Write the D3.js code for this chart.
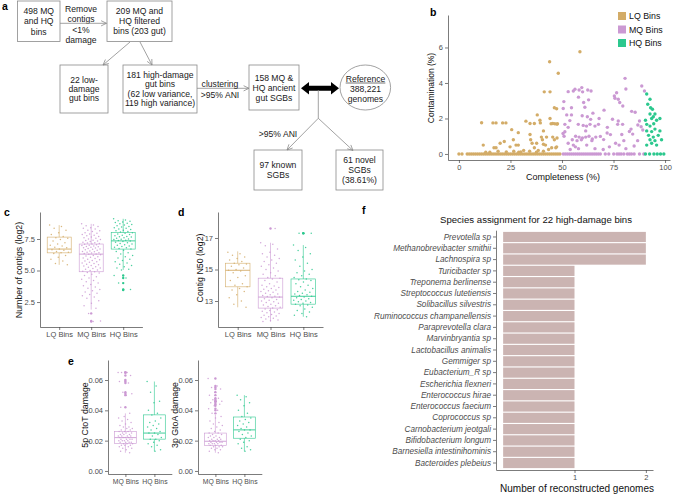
<!DOCTYPE html>
<html><head><meta charset="utf-8">
<script src="https://cdn.jsdelivr.net/npm/d3@7"></script>
<style>body{margin:0;background:#fff} svg{display:block}</style>
</head><body>
<script>
// ---------------- DATA ----------------
const binClasses = ["LQ Bins","MQ Bins","HQ Bins"];
const damageClasses = ["MQ Bins","HQ Bins"];

// panel a texts
const flowTexts = {
  start: ["498 MQ","and HQ","bins"],
  filterStep: ["Remove","contigs","<1%","damage"],
  filtered: ["209 MQ and","HQ filtered","bins (203 gut)"],
  lowDamage: ["22 low-","damage","gut bins"],
  highDamage: ["181 high-damage","gut bins","(62 low variance,","119 high variance)"],
  clusterStep: ["clustering",">95% ANI"],
  sgbs: ["158 MQ &","HQ ancient","gut SGBs"],
  reference: ["Reference","388,221","genomes"],
  aniStep: [">95% ANI"],
  known: ["97 known","SGBs"],
  novel: ["61 novel","SGBs","(38.61%)"]
};

// panel b: [completeness %, contamination %]
const lqPoints = [[0,0],[1.5,0],[4,0],[5,0],[6,0],[7,0],[8,0],[9,0],[10,0],[11,0],[12,0],[13,0],[14,0],[15,0],[16,0],[17,0],[18,0],[19,0],[20,0],[21,0],[22,0],[23,0],[24,0],[25,0],[26,0],[27,0],[28,0],[29,0],[30,0],[31,0],[32,0],[33,0],[34,0],[35,0],[36,0],[37,0],[38,0],[39,0],[40,0],[41,0],[42,0],[43,0],[44,0],[45,0],[46,0],[47,0],[48,0],[49,0],
 [11,1.76],[11.8,0.5],[16.5,1.75],[18,1.75],[21.2,1.75],[22.8,1.75],[17,0.35],[18,0.35],[20,0.6],[22,0.7],[25.6,1.37],[26.4,0.8],[24.8,0.4],[27.7,0.5],[28.8,0.5],[28.8,1.2],[31.4,0.2],[32.5,1.85],[34.5,1.72],[36.6,1.72],[34.5,1.1],[34.8,0.8],[35.5,0.6],[36.6,0.35],[37.7,0.6],[38,2.2],[39.3,1.9],[39.5,1.75],[40,0.95],[40.5,0.8],[41,1.3],[41.4,3.5],[44.2,3.5],[44,5.2],[48.2,4.55],[46.3,2.6],[44.2,2.0],[44.7,1.7],[45.5,1.72],[46.5,1.7],[47.5,1.68],[41,0.55],[42,0.5],[42.5,0.95],[45.5,0.95],[46.3,0.8],[45,0.35],[47,0.35],[38.5,0.2],[41,0.15],[43.5,0.25],[30,0.12],[26.6,0.15],[29,0.1],[34.3,0.15],[37.6,0.1],[58.7,5.76],[47.4,2.55],[47.8,1.7],[47.6,0.9],[47.4,0.4],[13,0.1],[15,0.1],[19,0.15],[23,0.12]];
const mqPoints = [[50.6,0],[51.6,0],[52.6,0],[53.6,0],[54.6,0],[55.6,0],[56.6,0],[57.6,0],[58.6,0],[59.6,0],[60.6,0],[61.6,0],[62.6,0],[63.6,0],[64.6,0],[65.6,0],[66.6,0],[67.6,0],[68.6,0],[71,0],[72.7,0],[75.1,0],[76.7,0],[77.7,0],[78.7,0],[80,0],[81.7,0],[82.7,0],[83.7,0],[85,0],[87.6,0],[89.7,0],
 [80.6,4.26],[88.7,3.83],[90,3.55],[81,3.66],[76.5,3.45],[75.4,3.27],[75.7,3.14],[77.3,3.08],[53,3.51],[55.5,3.55],[56.3,3.65],[58.3,3.6],[59.6,3.74],[60,3.5],[62.5,3.6],[64.1,3.55],[62.9,3.05],[58,3.2],[50.9,2.95],[50.6,2.56],[54.6,2.6],[61.1,2.63],[54.6,2.2],[53.8,1.88],[59.8,2.15],[62.3,2.1],[63.9,1.95],[70.4,2.47],[74.5,1.96],[77.3,1.86],[77,1.67],[79.4,1.67],[87.6,1.86],[86.8,1.63],[88.4,1.53],[89.2,1.35],[83.5,1.4],[82.7,1.27],[84.3,1.12],[71.9,1.18],[73.5,1.09],[70.2,0.81],[68.6,0.99],[63.6,1.67],[66,1.57],[67.7,1.67],[57.9,1.67],[60.3,1.61],[61.9,1.57],[51.4,1.67],[53,1.5],[51.4,1.25],[50.5,1.15],[51,1.0],[56.6,1.0],[58.3,0.95],[59.9,0.9],[61.5,0.95],[63.1,1.0],[64.7,0.85],[66.4,0.95],[55,0.8],[57.3,0.75],[59.4,0.8],[53,0.6],[55.5,0.5],[62,0.5],[64.5,0.75],[76,0.6],[77.7,0.5],[80,0.75],[86.7,0.75],[68,2.0],[72,1.5],[66,0.3],[70,0.25],[73,0.4],[79,1.1],[81,0.3],[85,0.45],[58,0.3],[54,0.25],[60.5,2.9],[61.5,1.3],[65,2.3],[52.3,2.2],[56.5,0.4],[79.5,2.7],[78,2.9],[83.8,2.4],[85.5,2.35]];
const hqPoints = [[90.5,0],[92.5,0],[94.6,0],[96.2,0],[97.8,0],[99.4,0],
 [91.1,3.38],[92.7,3.08],[91.6,2.8],[93.9,2.52],[92.7,2.25],[94.3,2.1],[95.1,2.25],[93.5,2.0],[95.9,1.9],[97.5,2.0],[91.1,1.67],[92.7,1.57],[91.1,1.3],[93.5,1.26],[95.1,1.4],[92,1.05],[94.3,0.95],[96.7,1.05],[92.7,0.8],[95.1,0.75],[98.3,0.8],[93.5,0.6],[95.9,0.5],[91.1,0.5],[97.5,1.3],[90.5,1.9],[94.5,1.7],[93,2.6]];
const bXTicks = [0,25,50,75,100];
const bYTicks = [0,2,4,6];

// panel c: number of contigs (log2)
const contigsLQ = [8.6,8.5,8.35,8.2,8.0,7.85,7.7,7.6,7.55,7.45,7.35,7.2,7.1,7.0,6.95,6.85,6.8,6.7,6.65,6.6,6.5,6.45,6.4,6.35,6.2,6.05,5.9,5.75,5.55,5.45];
const contigsMQ = [8.7,8.6,8.55,8.5,8.4,8.35,8.3,8.2,8.15,8.1,8.0,7.95,7.9,7.85,7.8,7.75,7.7,7.65,7.6,7.55,7.5,7.45,7.4,7.38,7.35,7.3,7.25,7.2,7.18,7.15,7.1,7.08,7.05,7.0,6.98,6.95,6.9,6.88,6.85,6.8,6.78,6.75,6.7,6.68,6.65,6.6,6.55,6.5,6.48,6.45,6.4,6.38,6.35,6.3,6.28,6.25,6.2,6.15,6.1,6.05,6.0,5.95,5.9,5.85,5.8,5.75,5.7,5.65,5.6,5.55,5.5,5.45,5.4,5.35,5.3,5.25,5.2,5.15,5.1,5.05,5.0,4.95,4.9,4.85,4.8,4.7,4.6,4.5,4.4,4.3,4.2,4.1,4.0,3.9,3.8,3.7,3.6,3.5,3.4,3.3,3.2,3.1,3.0,2.9,2.8,2.6,2.4,2.2,2.0,1.6,1.0,0.95];
const contigsHQ = [9.1,9.0,8.95,8.9,8.85,8.8,8.75,8.7,8.65,8.6,8.55,8.5,8.45,8.4,8.35,8.3,8.25,8.2,8.15,8.1,8.05,8.0,7.95,7.9,7.85,7.8,7.75,7.7,7.68,7.65,7.6,7.55,7.5,7.48,7.45,7.4,7.38,7.35,7.3,7.25,7.2,7.15,7.1,7.05,7.0,6.95,6.9,6.85,6.8,6.75,6.7,6.6,6.5,6.4,6.3,6.2,6.1,6.0,5.9,5.8,5.7,5.6,5.5,5.4,5.3,5.2,5.1,5.05,4.6,4.4,4.0,3.5,3.45];
// [lower whisker, q1, median, q3, upper whisker]
const contigsStats = [[5.45,6.4,6.7,7.65,8.6],[1.9,4.9,6.3,7.1,8.7],[5.05,6.7,7.35,8.0,9.1]];
const contigsTicks = [2.5,5.0,7.5];

// panel d: contig N50 (log2)
const n50LQ = [16.1,16.0,15.9,15.8,15.7,15.6,15.5,15.4,15.35,15.3,15.2,15.1,15.0,14.95,14.9,14.8,14.6,14.5,14.3,14.1,14.0,13.9,13.8,13.7,13.6,13.4,13.2,13.0,12.8,12.6];
const n50MQ = [16.7,16.6,16.5,16.3,16.1,16.0,15.9,15.8,15.7,15.6,15.5,15.4,15.3,15.2,15.1,15.0,14.9,14.8,14.7,14.6,14.5,14.45,14.4,14.3,14.2,14.1,14.0,13.95,13.9,13.85,13.8,13.75,13.7,13.65,13.6,13.55,13.5,13.45,13.4,13.35,13.3,13.28,13.25,13.2,13.15,13.1,13.05,13.0,12.95,12.9,12.85,12.8,12.75,12.7,12.65,12.6,12.55,12.5,12.45,12.4,12.35,12.3,12.25,12.2,12.15,12.1,12.05,12.0,11.95,11.9,11.85,11.8,11.75,11.7,17.6];
const n50HQ = [16.55,16.4,16.2,16.0,15.8,15.6,15.4,15.2,15.0,14.9,14.8,14.7,14.6,14.5,14.4,14.35,14.3,14.2,14.1,14.0,13.9,13.8,13.7,13.6,13.55,13.5,13.45,13.4,13.35,13.3,13.25,13.2,13.15,13.1,13.05,13.0,12.95,12.9,12.85,12.8,12.75,12.7,12.6,12.5,12.4,12.3,12.2,12.1,12.0,17.3,17.3];
const n50Stats = [[12.6,13.9,14.95,15.4,16.15],[11.7,12.55,13.25,14.45,16.7],[12.0,12.8,13.3,14.4,16.55]];
const n50Ticks = [13,15,17];

// panel e: damage
const ctoTMQ = [0.065,0.065,0.065,0.063,0.06,0.059,0.058,0.052,0.051,0.05,0.042,0.038,0.036,0.035,0.034,0.033,0.032,0.031,0.030,0.029,0.029,0.028,0.028,0.027,0.027,0.026,0.026,0.026,0.025,0.025,0.025,0.024,0.024,0.024,0.023,0.023,0.023,0.023,0.022,0.022,0.022,0.022,0.021,0.021,0.021,0.021,0.020,0.020,0.020,0.020,0.019,0.019,0.019,0.019,0.018,0.018,0.018,0.017,0.017,0.017,0.016,0.016,0.015,0.015,0.014,0.013,0.012];
const ctoTHQ = [0.059,0.056,0.052,0.046,0.045,0.040,0.038,0.037,0.035,0.033,0.032,0.031,0.030,0.029,0.028,0.027,0.026,0.025,0.025,0.024,0.023,0.022,0.021,0.021,0.020,0.019,0.018,0.017,0.016,0.014,0.013];
const gtoAMQ = [0.061,0.056,0.055,0.054,0.052,0.050,0.048,0.047,0.046,0.046,0.045,0.044,0.043,0.041,0.040,0.038,0.036,0.035,0.033,0.032,0.031,0.030,0.029,0.028,0.027,0.026,0.025,0.025,0.024,0.024,0.023,0.023,0.022,0.022,0.022,0.021,0.021,0.021,0.020,0.020,0.020,0.020,0.019,0.019,0.019,0.019,0.018,0.018,0.018,0.018,0.017,0.017,0.017,0.016,0.016,0.016,0.015,0.015,0.014,0.014,0.013,0.012];
const gtoAHQ = [0.050,0.049,0.047,0.045,0.043,0.040,0.038,0.036,0.035,0.034,0.033,0.032,0.031,0.030,0.029,0.028,0.027,0.027,0.026,0.025,0.024,0.023,0.022,0.021,0.020,0.019,0.018,0.016,0.015,0.014,0.013];
const ctoTStats = [[0.012,0.018,0.022,0.026,0.038],[0.013,0.021,0.025,0.037,0.059]];
const gtoAStats = [[0.012,0.0167,0.0196,0.025,0.037],[0.013,0.0216,0.0271,0.0356,0.050]];
const damageTicks = [0,0.02,0.04,0.06];

// panel f
const species = ["Prevotella sp","Methanobrevibacter smithii","Lachnospira sp","Turicibacter sp","Treponema berlinense","Streptococcus lutetiensis","Solibacillus silvestris","Ruminococcus champanellensis","Paraprevotella clara","Marvinbryantia sp","Lactobacillus animalis","Gemmiger sp","Eubacterium_R sp","Escherichia flexneri","Enterococcus hirae","Enterococcus faecium","Coprococcus sp","Carnobacterium jeotgali","Bifidobacterium longum","Barnesiella intestinihominis","Bacteroides plebeius"];
const genomeCounts = [2,2,2,1,1,1,1,1,1,1,1,1,1,1,1,1,1,1,1,1,1];
const fTicks = [1,2];

// ---------------- STYLE ----------------
const FONT = '"Liberation Sans", Arial, Helvetica, sans-serif';
const COLORS = ["#D3AC68","#CB99D3","#2CC88E"];
const AXIS = "#444", TICKTXT = "#4d4d4d";

const svg = d3.select("body").append("svg").attr("width",674).attr("height",495)
  .attr("font-family",FONT);

function styleAxis(g,size){
  g.attr("font-family",FONT).attr("font-size",size||7.5);
  g.select(".domain").attr("stroke",AXIS).attr("stroke-width",0.7);
  g.selectAll(".tick line").attr("stroke",AXIS).attr("stroke-width",0.7);
  g.selectAll(".tick text").attr("fill",TICKTXT);
}
function axisTitle(x,y,txt,rot,size){
  svg.append("text").attr("transform",`translate(${x},${y})` + (rot?" rotate(-90)":""))
    .attr("text-anchor","middle").attr("font-size",size||8.8).attr("fill","#111").text(txt);
}

// panel letters
[["a",2,10],["b",430,16],["c",4,216],["d",178,216],["e",68,365],["f",362,214]].forEach(([t,x,y])=>{
  svg.append("text").attr("x",x).attr("y",y).attr("font-size",10.5).attr("font-weight","bold").attr("fill","#000").text(t);
});

// ---------------- PANEL A ----------------
const ga = svg.append("g");
const LC = "#8a8a8a";
function flowText(cx,cy,lines,lh){
  const t = ga.append("text").attr("text-anchor","middle").attr("font-size",8.6).attr("fill","#1a1a1a");
  lines.forEach((s,i)=>t.append("tspan").attr("x",cx).attr("y",cy+(i-(lines.length-1)/2)*lh+3).text(s));
  return t;
}
function flowBox(x,y,w,h,lines,lh){
  ga.append("rect").attr("x",x).attr("y",y).attr("width",w).attr("height",h)
    .attr("fill","none").attr("stroke",LC).attr("stroke-width",0.8);
  flowText(x+w/2,y+h/2,lines,lh||10);
}
function arrow(x1,y1,x2,y2){
  ga.append("line").attr("x1",x1).attr("y1",y1).attr("x2",x2).attr("y2",y2).attr("stroke",LC).attr("stroke-width",0.8);
  const a = Math.atan2(y2-y1,x2-x1), L=6, s=0.45;
  const pts=[[x2-L*Math.cos(a-s),y2-L*Math.sin(a-s)],[x2,y2],[x2-L*Math.cos(a+s),y2-L*Math.sin(a+s)]];
  ga.append("path").attr("d",d3.line()(pts)).attr("fill","none").attr("stroke",LC).attr("stroke-width",0.8);
}
flowBox(17.5,1,42.5,40.5,flowTexts.start,10.3);
flowText(81,24.5,flowTexts.filterStep,10.2);
arrow(60,23.3,106.5,23.3);
flowBox(107,1,65,40.5,flowTexts.filtered,10);
arrow(130,42,103,65);
arrow(140,42,152,65);
flowBox(60,65,48,48,flowTexts.lowDamage,9.3);
flowBox(123,65,74,48,flowTexts.highDamage,9.4);
arrow(197,88.3,249,88.3);
flowText(220,89,flowTexts.clusterStep,11);
flowBox(249,65,50,45,flowTexts.sgbs,10);
// double arrow
ga.append("path").attr("d","M301,88.3 L309,82 L309,85.8 L331,85.8 L331,82 L339,88.3 L331,94.6 L331,90.8 L309,90.8 L309,94.6 Z").attr("fill","#000");
ga.append("ellipse").attr("cx",365.3).attr("cy",87.5).attr("rx",25.3).attr("ry",22.5).attr("fill","none").attr("stroke",LC).attr("stroke-width",0.8);
const refT = flowText(365.5,89,flowTexts.reference,10.3);
{
  const first = refT.select("tspan").node();
  const w = first.getComputedTextLength();
  const by = +d3.select(first).attr("y");
  ga.append("line").attr("x1",365.5-w/2).attr("x2",365.5+w/2).attr("y1",by+1.3).attr("y2",by+1.3).attr("stroke","#1a1a1a").attr("stroke-width",0.6);
}
ga.append("line").attr("x1",318.3).attr("y1",90).attr("x2",318.3).attr("y2",118.3).attr("stroke",LC).attr("stroke-width",0.8);
arrow(318.3,118.3,287,150);
arrow(318.3,118.3,353,150.5);
flowText(278,133.5,flowTexts.aniStep,10);
flowBox(254,150,48,40,flowTexts.known,9.5);
flowBox(336,150,47,40,flowTexts.novel,10);

// ---------------- PANEL B ----------------
{
  const x = d3.scaleLinear().domain([-5.3,102.4]).range([448,670]);
  const y = d3.scaleLinear().domain([-0.34,7.83]).range([160,15]);
  const gx = svg.append("g").attr("transform","translate(0,160)")
    .call(d3.axisBottom(x).tickValues(bXTicks).tickSize(3).tickSizeOuter(0).tickPadding(2));
  styleAxis(gx);
  const gy = svg.append("g").attr("transform","translate(448,0)")
    .call(d3.axisLeft(y).tickValues(bYTicks).tickSize(3).tickSizeOuter(0).tickPadding(2));
  styleAxis(gy);
  [lqPoints,mqPoints,hqPoints].forEach((pts,k)=>{
    svg.append("g").selectAll("circle").data(pts).join("circle")
      .attr("cx",d=>x(d[0])).attr("cy",d=>y(d[1])).attr("r",1.7).attr("fill",COLORS[k]);
  });
  axisTitle(563,179.5,"Completeness (%)",false,9);
  axisTitle(434,88,"Contamination (%)",true,8.5);
  const lg = svg.append("g");
  binClasses.forEach((c,k)=>{
    lg.append("rect").attr("x",618).attr("y",12+k*13.5).attr("width",8).attr("height",8).attr("fill",COLORS[k]);
    lg.append("text").attr("x",629).attr("y",19.3+k*13.5).attr("font-size",8.8).attr("fill","#111").text(c);
  });
}

// ---------------- BOX PANELS ----------------
const jit = i => (((i*0.6180339887)%1)-0.5)*2;
function boxPanel(o){
  const g = svg.append("g");
  const x = d3.scalePoint().domain(o.cats).range([o.x0,o.x1]).padding(0.6);
  const step = x.step();
  const y = d3.scaleLinear().domain(o.domain).range([o.yBot,o.yTop]);
  const gy = g.append("g").attr("transform",`translate(${o.x0},0)`)
    .call(d3.axisLeft(y).tickValues(o.ticks).tickFormat(o.fmt).tickSize(3).tickSizeOuter(0).tickPadding(2));
  styleAxis(gy);
  const gx = g.append("g").attr("transform",`translate(0,${o.yBot})`)
    .call(d3.axisBottom(x).tickSize(3).tickSizeOuter(0).tickPadding(2));
  styleAxis(gx,o.xLabelSize);
  o.cats.forEach((c,k)=>{
    const cx = x(c), bw = step*0.75, col = o.colors[k], s = o.stats[k], vals = o.groups[k];
    g.append("line").attr("x1",cx).attr("x2",cx).attr("y1",y(s[0])).attr("y2",y(s[1])).attr("stroke",col).attr("stroke-width",0.6);
    g.append("line").attr("x1",cx).attr("x2",cx).attr("y1",y(s[3])).attr("y2",y(s[4])).attr("stroke",col).attr("stroke-width",0.6);
    g.append("rect").attr("x",cx-bw/2).attr("y",y(s[3])).attr("width",bw).attr("height",y(s[1])-y(s[3]))
      .attr("fill","none").attr("stroke",col).attr("stroke-width",0.6);
    g.append("line").attr("x1",cx-bw/2).attr("x2",cx+bw/2).attr("y1",y(s[2])).attr("y2",y(s[2])).attr("stroke",col).attr("stroke-width",0.9);
    g.append("g").selectAll("circle").data(vals.filter(v=>v<s[0]||v>s[4])).join("circle")
      .attr("cx",cx).attr("cy",d=>y(d)).attr("r",1.2).attr("fill",col);
    g.append("g").selectAll("circle").data(vals).join("circle")
      .attr("cx",(d,i)=>cx+jit(i)*step*o.jw).attr("cy",d=>y(d)).attr("r",0.75)
      .attr("fill",col).attr("fill-opacity",0.85);
  });
  axisTitle(o.tx,o.ty,o.title,true);
}
boxPanel({cats:binClasses,groups:[contigsLQ,contigsMQ,contigsHQ],stats:contigsStats,colors:COLORS,
  x0:40,x1:142.4,yTop:212,yBot:327,domain:[0.52,9.64],ticks:contigsTicks,fmt:d3.format(".1f"),jw:0.3,
  title:"Number of contigs (log2)",tx:22,ty:270});
boxPanel({cats:binClasses,groups:[n50LQ,n50MQ,n50HQ],stats:n50Stats,colors:COLORS,
  x0:218,x1:323,yTop:212,yBot:327,domain:[11.35,18.65],ticks:n50Ticks,fmt:d3.format("d"),jw:0.3,
  title:"Contig N50 (log2)",tx:203,ty:268});
boxPanel({cats:damageClasses,groups:[ctoTMQ,ctoTHQ],stats:ctoTStats,colors:[COLORS[1],COLORS[2]],
  x0:108,x1:171.8,yTop:360,yBot:474,domain:[-0.002,0.0732],ticks:damageTicks,fmt:d3.format(".2f"),jw:0.25,
  title:"5p CtoT damage",tx:88,ty:415,xLabelSize:6.8});
boxPanel({cats:damageClasses,groups:[gtoAMQ,gtoAHQ],stats:gtoAStats,colors:[COLORS[1],COLORS[2]],
  x0:198,x1:261.8,yTop:360,yBot:474,domain:[-0.002,0.0732],ticks:damageTicks,fmt:d3.format(".2f"),jw:0.25,
  title:"3p GtoA damage",tx:178,ty:415,xLabelSize:6.8});

// ---------------- PANEL F ----------------
{
  const y = d3.scaleBand().domain(species).range([230.2,469.8]).paddingInner(0.1).paddingOuter(0.15);
  const x = d3.scaleLinear().domain([-0.1,2.1]).range([496,653]);
  svg.append("g").selectAll("rect").data(species).join("rect")
    .attr("x",x(0)).attr("y",d=>y(d)).attr("height",y.bandwidth())
    .attr("width",(d,i)=>x(genomeCounts[i])-x(0)).attr("fill","#CBB4B2");
  const gx = svg.append("g").attr("transform","translate(0,470)")
    .call(d3.axisBottom(x).tickValues(fTicks).tickFormat(d3.format("d")).tickSize(3).tickSizeOuter(0).tickPadding(2));
  styleAxis(gx);
  const gy = svg.append("g").attr("transform","translate(496,0)")
    .call(d3.axisLeft(y).tickSize(3).tickSizeOuter(0).tickPadding(2));
  styleAxis(gy);
  gy.attr("font-size",8.2).selectAll(".tick text").attr("font-style","italic");
  svg.append("text").attr("x",577).attr("y",491.5).attr("text-anchor","middle").attr("font-size",10).attr("fill","#111").text("Number of reconstructed genomes");
  svg.append("text").attr("x",440).attr("y",222.5).attr("font-size",9.6).attr("fill","#111").text("Species assignment for 22 high-damage bins");
}
</script>
</body></html>
